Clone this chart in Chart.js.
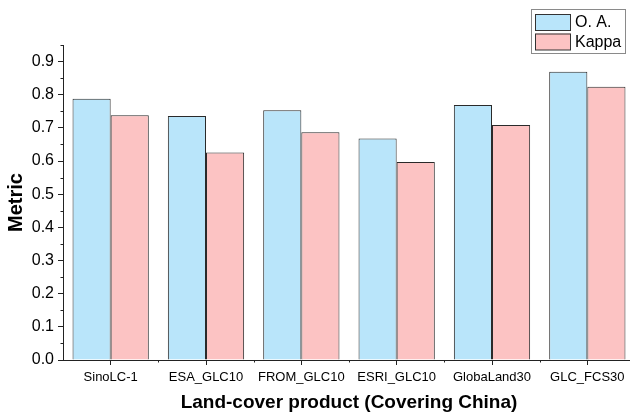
<!DOCTYPE html>
<html>
<head>
<meta charset="utf-8">
<script src="https://cdn.jsdelivr.net/npm/chart.js@4/dist/chart.umd.min.js"></script>
<style>
html,body{margin:0;padding:0;background:#fff;overflow:hidden;width:630px;height:417px;}
canvas{display:block;}
</style>
</head>
<body>
<canvas id="c" width="636" height="417"></canvas>
<script>
const categories = ["SinoLC-1", "ESA_GLC10", "FROM_GLC10", "ESRI_GLC10", "GlobaLand30", "GLC_FCS30"];
const oaValues = [0.788, 0.736, 0.753, 0.668, 0.769, 0.869];
const kappaValues = [0.738, 0.626, 0.687, 0.597, 0.709, 0.824];
const yTickValues = [0, 0.1, 0.2, 0.3, 0.4, 0.5, 0.6, 0.7, 0.8, 0.9];
const seriesNames = ["O. A.", "Kappa"];

const FONT = "Arial, 'Liberation Sans', sans-serif";
const AXIS = '#222222';

const minorTicks = {
  id: 'minorTicks',
  afterDraw(chart) {
    const ctx = chart.ctx;
    const x = chart.scales.x, y = chart.scales.y;
    ctx.save();
    ctx.strokeStyle = AXIS;
    ctx.lineWidth = 1;
    ctx.beginPath();
    for (let i = 0; i < yTickValues.length; i++) {
      const v = yTickValues[i] + 0.05;
      const py = Math.round(y.getPixelForValue(v)) + 0.5;
      ctx.moveTo(x.left - 2.5, py);
      ctx.lineTo(x.left, py);
    }
    for (let i = 1; i < categories.length; i++) {
      const px = Math.round((x.getPixelForValue(i - 1) + x.getPixelForValue(i)) / 2) + 0.5;
      ctx.moveTo(px, y.bottom);
      ctx.lineTo(px, y.bottom + 2.5);
    }
    ctx.stroke();
    ctx.restore();
  }
};

const boxLegend = {
  id: 'boxLegend',
  afterDraw(chart) {
    const ctx = chart.ctx;
    ctx.save();
    ctx.strokeStyle = '#8a8a8a';
    ctx.lineWidth = 1;
    ctx.strokeRect(531.5, 9.5, 94, 44);
    ctx.font = '16px ' + FONT;
    ctx.textBaseline = 'middle';
    ctx.textAlign = 'left';
    chart.data.datasets.forEach((ds, i) => {
      const top = 14 + i * 19.5;
      ctx.fillStyle = ds.backgroundColor;
      ctx.fillRect(535, top, 36, 16.5);
      ctx.strokeStyle = '#333';
      ctx.strokeRect(535.5, top + 0.5, 35, 16);
      ctx.fillStyle = '#000';
      ctx.fillText(ds.label, 575, top + 9);
    });
    ctx.restore();
  }
};

new Chart(document.getElementById('c'), {
  type: 'bar',
  data: {
    labels: categories,
    datasets: [
      { label: seriesNames[0], data: oaValues, backgroundColor: '#B9E5FA', borderColor: '#2a2a2a', borderWidth: 1, categoryPercentage: 0.8, barPercentage: 1.0 },
      { label: seriesNames[1], data: kappaValues, backgroundColor: '#FCC3C3', borderColor: '#2a2a2a', borderWidth: 1, categoryPercentage: 0.8, barPercentage: 1.0 }
    ]
  },
  options: {
    responsive: false,
    animation: false,
    devicePixelRatio: 1,
    layout: { padding: { top: 45, right: 1, left: 0, bottom: 0 } },
    plugins: { legend: { display: false }, tooltip: { enabled: false }, title: { display: false } },
    scales: {
      x: {
        type: 'category',
        offset: true,
        grid: { display: true, drawOnChartArea: false, offset: false, tickLength: 5, color: AXIS, tickColor: AXIS },
        border: { display: true, color: AXIS, width: 1 },
        ticks: { color: '#000', font: { family: FONT, size: 13 }, padding: 5, maxRotation: 0, autoSkip: false },
        title: { display: true, text: 'Land-cover product (Covering China)', color: '#000', font: { family: FONT, size: 19, weight: 'bold' }, padding: { top: 0, bottom: 3 } },
        afterFit(s) { s.height = 57; }
      },
      y: {
        min: 0,
        max: 0.95,
        grid: { display: true, drawOnChartArea: false, tickLength: 5, color: AXIS, tickColor: AXIS },
        border: { display: true, color: AXIS, width: 1 },
        ticks: { color: '#000', font: { family: FONT, size: 16 }, padding: 4, callback: v => Number(v).toFixed(1) },
        afterBuildTicks(s) { s.ticks = yTickValues.map(v => ({ value: v })); },
        title: { display: true, text: 'Metric', color: '#000', font: { family: FONT, size: 20, weight: 'bold' }, padding: { top: 4, bottom: 0 } },
        afterFit(s) { s.width = 63; }
      }
    }
  },
  plugins: [minorTicks, boxLegend]
});
</script>
</body>
</html>
